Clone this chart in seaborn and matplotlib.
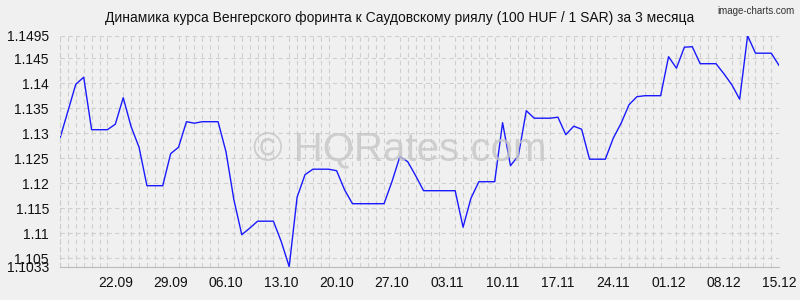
import matplotlib
matplotlib.use("Agg")
import matplotlib.pyplot as plt
import matplotlib.dates as mdates
import seaborn as sns
import pandas as pd

# ---- data ----
start_date = "2025-09-15"
rates = [
    1.1290, 1.1344, 1.1398, 1.1412, 1.1307, 1.1307, 1.1307,
    1.1318, 1.1371, 1.1313, 1.1272, 1.1195, 1.1195, 1.1195,
    1.1259, 1.1272, 1.1323, 1.1320, 1.1323, 1.1323, 1.1323,
    1.1263, 1.1167, 1.1097, 1.1110, 1.1124, 1.1124, 1.1124,
    1.1083, 1.1033, 1.1172, 1.1217, 1.1228, 1.1228, 1.1228,
    1.1225, 1.1187, 1.1159, 1.1159, 1.1159, 1.1159, 1.1159,
    1.1203, 1.1253, 1.1243, 1.1215, 1.1185, 1.1185, 1.1185,
    1.1185, 1.1185, 1.1112, 1.1170, 1.1203, 1.1203, 1.1203,
    1.1321, 1.1235, 1.1255, 1.1345, 1.1330, 1.1330, 1.1330,
    1.1332, 1.1297, 1.1314, 1.1308, 1.1248, 1.1248, 1.1248,
    1.1290, 1.1320, 1.1357, 1.1373, 1.1375, 1.1375, 1.1375,
    1.1453, 1.1430, 1.1472, 1.1473, 1.1439, 1.1439, 1.1439,
    1.1419, 1.1397, 1.1368, 1.1495, 1.1460, 1.1460, 1.1460,
    1.1435,
]
x_tick_labels = ["22.09", "29.09", "06.10", "13.10", "20.10", "27.10", "03.11",
                 "10.11", "17.11", "24.11", "01.12", "08.12", "15.12"]
y_ticks = [1.1033, 1.105, 1.11, 1.115, 1.12, 1.125, 1.13, 1.135, 1.14, 1.145, 1.1495]
y_tick_labels = ["1.1033", "1.105", "1.11", "1.115", "1.12", "1.125", "1.13",
                 "1.135", "1.14", "1.145", "1.1495"]
title = "Динамика курса Венгерского форинта к Саудовскому риялу (100 HUF / 1 SAR) за 3 месяца"

dates = pd.date_range(start_date, periods=len(rates), freq="D")
df = pd.DataFrame({"date": dates, "rate": rates})

# ---- style ----
bg = "#f0f0f0"
sns.set_style("white")
plt.rcParams["font.family"] = ["Liberation Sans", "DejaVu Sans"]

fig = plt.figure(figsize=(8, 3), dpi=100, facecolor=bg)
ax = fig.add_axes([0.075, 0.111, 0.899, 0.770])
ax.set_facecolor(bg)

sns.lineplot(data=df, x="date", y="rate", ax=ax, color="#1a1aff", linewidth=1.0)

ax.set_xlim(dates[0], dates[-1])
ax.set_ylim(min(y_ticks), max(y_ticks))

tick_dates = [pd.to_datetime(lbl + ".2025", format="%d.%m.%Y") for lbl in x_tick_labels]
ax.set_xticks(tick_dates)
ax.set_xticklabels(x_tick_labels)
ax.xaxis.set_minor_locator(mdates.DayLocator())
ax.set_yticks(y_ticks)
ax.set_yticklabels(y_tick_labels)

ax.tick_params(axis="both", which="both", length=0, labelsize=10, colors="#111111")
ax.tick_params(axis="x", pad=7)
ax.tick_params(axis="y", pad=8)

gl = dict(color="#cfcfcf", linewidth=0.8, linestyle=(0, (4, 3)))
ax.grid(True, axis="x", which="minor", **gl)
ax.grid(True, axis="y", which="major", **gl)
ax.grid(False, axis="x", which="major")

for s in ["top", "right"]:
    ax.spines[s].set_visible(False)
ax.spines["left"].set_color("#cccccc")
ax.spines["left"].set_linestyle((0, (4, 3)))
ax.spines["left"].set_linewidth(0.8)
ax.spines["bottom"].set_color("#bbbbbb")
ax.spines["bottom"].set_linewidth(0.8)

ax.set_xlabel("")
ax.set_ylabel("")

fig.text(0.5, 0.94, title, ha="center", va="center", fontsize=10, color="#111111")
fig.text(0.993, 0.965, "image-charts.com", ha="right", va="center", fontsize=7, color="#333333")
fig.text(0.5, 0.5, "© HQRates.com", ha="center", va="center", fontsize=29,
         color="#c6c6c6", alpha=0.8, zorder=0)

fig.savefig("out.png", dpi=100, facecolor=bg)
